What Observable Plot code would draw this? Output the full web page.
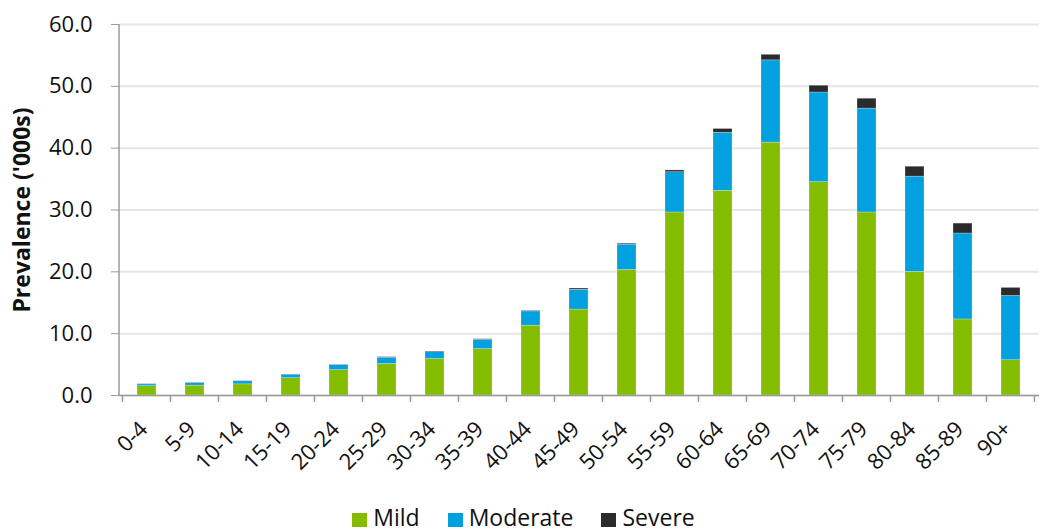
<!DOCTYPE html>
<html>
<head>
<meta charset="utf-8">
<script src="https://cdn.jsdelivr.net/npm/d3@7"></script>
<script src="https://cdn.jsdelivr.net/npm/@observablehq/plot@0.6"></script>
<style>
  html, body { margin: 0; padding: 0; background: #fff; overflow: hidden; }
  body { font-family: "Open Sans", sans-serif; color: #111; width: 1043px; height: 532px; }
  #chart svg { display: block; }
  #legend { display: flex; justify-content: center; align-items: center; gap: 28px; font-size: 23px; line-height: 23px; height: 23px; margin-top: 10px; padding-left: 4px; }
  #legend .item { display: flex; align-items: center; gap: 6px; }
  #legend .sw { width: 15px; height: 14px; display: inline-block; margin-top: 4px; }
</style>
</head>
<body>
<div id="chart"></div>
<div id="legend"></div>
<script>
const categories = ["0-4","5-9","10-14","15-19","20-24","25-29","30-34","35-39","40-44","45-49","50-54","55-59","60-64","65-69","70-74","75-79","80-84","85-89","90+"];
const seriesNames = ["Mild","Moderate","Severe"];
const seriesColors = ["#84bc00","#00a1de","#2b2b2b"];
const mild     = [1.5, 1.6, 1.8, 2.8, 4.1, 5.1, 5.9, 7.5, 11.3, 13.9, 20.3, 29.6, 33.1, 40.9, 34.5, 29.6, 20.0, 12.3, 5.7];
const moderate = [0.3, 0.4, 0.5, 0.55, 0.8, 1.0, 1.1, 1.5, 2.3, 3.2, 4.1, 6.5, 9.4, 13.3, 14.5, 16.8, 15.4, 13.9, 10.4];
const severe   = [0.05, 0.05, 0.05, 0.05, 0.05, 0.1, 0.1, 0.1, 0.1, 0.2, 0.15, 0.3, 0.6, 0.9, 1.1, 1.6, 1.6, 1.6, 1.3];
const yTicks = [0, 10, 20, 30, 40, 50, 60];

const seriesValues = [mild, moderate, severe];
const rows = [];
seriesNames.forEach((s, si) => {
  categories.forEach((c, i) => rows.push({age: c, series: s, value: seriesValues[si][i]}));
});

const W = 1043, H = 496;
const chart = Plot.plot({
  width: W,
  height: H,
  marginLeft: 119,
  marginRight: 4,
  marginTop: 24,
  marginBottom: 101,
  style: {fontFamily: "'Open Sans', sans-serif", color: "#111", background: "#fff"},
  x: {domain: categories, paddingInner: 0.6, paddingOuter: 0.3, label: null},
  y: {domain: [0, 60], label: null},
  color: {domain: seriesNames, range: seriesColors},
  marks: [
    Plot.gridY(yTicks, {stroke: "#e6e6e6", strokeOpacity: 1, strokeWidth: 2}),
    Plot.barY(rows, {x: "age", y: "value", fill: "series", order: seriesNames, stroke: "#fff", strokeOpacity: 0.5, strokeWidth: 0.5}),
    Plot.ruleY([0], {stroke: "#9a9a9a", strokeWidth: 1.5}),
    Plot.axisY(yTicks, {tickSize: 8, tickPadding: 19, tickFormat: d => d.toFixed(1), fontSize: 22, stroke: "#9a9a9a", fill: "#111", label: null}),
    Plot.axisY({ticks: [], tickSize: 0, label: "Prevalence ('000s)", labelAnchor: "center", labelArrow: false, labelOffset: 106, fontSize: 23, fontWeight: "bold", fill: "#111"}),
    Plot.axisX({tickSize: 0, tickRotate: -45, tickPadding: 30, dx: -3, fontSize: 22, fill: "#111", label: null})
  ]
});
document.getElementById("chart").appendChild(chart);

// axis line and category-boundary ticks drawn from Plot's own scales
const xs = chart.scale("x");
const ys = chart.scale("y");
const svg = d3.select(chart);
const g = svg.append("g").attr("stroke", "#9a9a9a").attr("stroke-width", 1.5);
const y0 = ys.apply(0), yTop = ys.apply(60);
const left = xs.range[0];
g.append("line").attr("x1", left).attr("x2", left).attr("y1", yTop).attr("y2", y0);
const step = xs.step;
const bounds = categories.map(c => xs.apply(c) + xs.bandwidth / 2 - step / 2);
bounds.push(bounds[bounds.length - 1] + step);
bounds.forEach(b => g.append("line").attr("x1", b).attr("x2", b).attr("y1", y0).attr("y2", y0 + 7));

// legend
const legend = d3.select("#legend");
seriesNames.forEach((s, i) => {
  const it = legend.append("div").attr("class", "item");
  it.append("span").attr("class", "sw").style("background", seriesColors[i]);
  it.append("span").text(s);
});
</script>
</body>
</html>
